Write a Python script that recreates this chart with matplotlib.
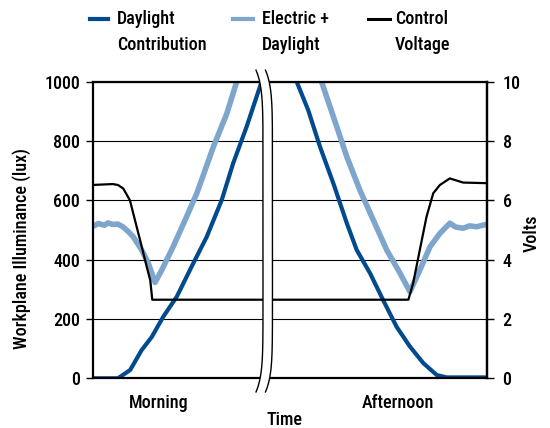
import numpy as np
import matplotlib
matplotlib.use("Agg")
import matplotlib.pyplot as plt
from matplotlib.lines import Line2D
from matplotlib.patches import Polygon
from matplotlib import font_manager as fm

# pick a condensed / narrow family if one is installed
names = {f.name for f in fm.fontManager.ttflist}
cond = [f for f in fm.fontManager.ttflist
        if ('Narrow' in f.name or 'Condensed' in f.name or
            str(f.stretch) in ('condensed', 'semi-condensed', 'extra-condensed', '75', '62.5', '87.5'))]
cond_names = sorted({f.name for f in cond})
prefer = ['Liberation Sans Narrow', 'Roboto Condensed', 'Open Sans Condensed',
          'DejaVu Sans Condensed']
chosen = None
for p in prefer:
    if p in names:
        chosen = p
        break
if chosen is None and cond_names:
    chosen = cond_names[0]
FONT = ([chosen] if chosen else []) + ['DejaVu Sans']
plt.rcParams['font.family'] = FONT
plt.rcParams['font.stretch'] = 'condensed'
plt.rcParams['font.weight'] = 500

# ---------------- data ----------------
day_am_t = [0, 6.4, 9.5, 12.4, 15.0, 17.9, 21.3, 25.5, 28.9, 32.7, 35.6, 39.0, 42.8]
day_am = [0, 0, 28, 95, 140, 208, 275, 388, 477, 601, 725, 848, 1000]

ele_am_t = [0, 1.5, 3.0, 3.9, 5.0, 6.4, 7.75, 9.0, 10.3, 12.4, 14.1, 15.8, 17.5,
            20.4, 23.8, 26.4, 30.6, 34.0, 36.5]
ele_am = [512, 522, 516, 524, 519, 520, 510, 495, 477, 433, 388, 323, 365,
          444, 545, 624, 781, 893, 1000]

volt_am_t = [0, 5.1, 6.4, 7.75, 9.45, 10.7, 12.0, 13.7, 14.6, 15.1, 43.2]
volt_am = [6.52, 6.55, 6.52, 6.4, 6.0, 5.34, 4.67, 3.76, 3.3, 2.65, 2.65]

day_pm_t = [51.7, 54.6, 57.6, 61.0, 64.4, 66.9, 70.3, 73.6, 77.0, 80.4, 83.8,
            87.2, 89.7, 100]
day_pm = [1000, 905, 781, 657, 523, 433, 354, 264, 174, 107, 51, 11, 3, 3]

ele_pm_t = [58.0, 61.0, 64.4, 67.7, 71.1, 74.5, 77.9, 80.4, 82.9, 85.5, 88.0,
            90.5, 92.0, 93.9, 95.5, 97.3, 100]
ele_pm = [1000, 882, 747, 635, 534, 433, 354, 292, 365, 444, 489,
          523, 510, 506, 514, 511, 520]

volt_pm_t = [45.6, 80.0, 81.2, 82.9, 84.6, 86.3, 88.0, 90.5, 93.9, 100]
volt_pm = [2.65, 2.65, 3.2, 4.33, 5.45, 6.24, 6.52, 6.74, 6.6, 6.58]

lux_ticks = [0, 200, 400, 600, 800, 1000]
volt_ticks = [0, 2, 4, 6, 8, 10]
legend_labels = ["Daylight\nContribution", "Electric +\nDaylight", "Control\nVoltage"]

DARK = '#024a8e'
LIGHT = '#7ea5cc'
BLACK = '#000000'
FS = 13

# ---------------- figure ----------------
W, H = 550.0, 428.0
fig = plt.figure(figsize=(5.5, 4.28), dpi=100)
ax = fig.add_axes([0.1685, 0.1161, 0.7175, 0.6929])
ax2 = ax.twinx()

ax.plot(day_am_t, day_am, color=DARK, lw=3.0, solid_capstyle='round', solid_joinstyle='round')
ax.plot(day_pm_t, day_pm, color=DARK, lw=3.0, solid_capstyle='round', solid_joinstyle='round')
ax.plot(ele_am_t, ele_am, color=LIGHT, lw=4.0, solid_capstyle='round', solid_joinstyle='round')
ax.plot(ele_pm_t, ele_pm, color=LIGHT, lw=4.0, solid_capstyle='round', solid_joinstyle='round')
ax2.plot(volt_am_t, volt_am, color=BLACK, lw=1.6, solid_joinstyle='round')
ax2.plot(volt_pm_t, volt_pm, color=BLACK, lw=1.6, solid_joinstyle='round')

ax.set_xlim(0, 100)
ax.set_ylim(0, 1000)
ax.set_xticks([])
ax.set_yticks(lux_ticks)
ax.yaxis.grid(True, color='black', lw=0.8)
ax.set_axisbelow(True)
ax.tick_params(axis='y', direction='out', length=5, width=1, pad=4, labelsize=FS)
for side in ['left', 'right', 'top', 'bottom']:
    ax.spines[side].set_linewidth(1.6)
    ax.spines[side].set_color('black')

ax2.set_ylim(0, 10)
ax2.set_yticks(volt_ticks)
ax2.tick_params(axis='y', direction='out', length=5, width=1, pad=6, labelsize=FS)
for side in ['left', 'top', 'bottom']:
    ax2.spines[side].set_visible(False)
ax2.spines['right'].set_linewidth(1.6)

# axis titles placed in figure pixels
fig.text(22 / W, 1 - 248.5 / H, 'Workplane Illuminance (lux)', rotation=90,
         ha='center', va='center', fontsize=FS)
fig.text(532 / W, 1 - 233.5 / H, 'Volts', rotation=90,
         ha='center', va='center', fontsize=FS)

ax.text(16.8, -0.100, 'Morning', transform=ax.get_xaxis_transform(),
        ha='center', va='baseline', fontsize=FS)
ax.text(77.4, -0.100, 'Afternoon', transform=ax.get_xaxis_transform(),
        ha='center', va='baseline', fontsize=FS)
ax.text(48.7, -0.157, 'Time', transform=ax.get_xaxis_transform(),
        ha='center', va='baseline', fontsize=FS)

# ---------------- axis break ----------------
yb = np.linspace(-46, 1039, 300)
mid = (1039 + -46) / 2.0
half = (1039 + 46) / 2.0
off = 1.77 * np.abs((yb - mid) / half) ** 10
x1 = 43.16 - off
x2 = 45.56 - off
poly = np.column_stack([np.r_[x1, x2[::-1]], np.r_[yb, yb[::-1]]])
ax2.add_patch(Polygon(poly, closed=True, fc='white', ec='none',
                      transform=ax.transData, clip_on=False, zorder=5))
for xx in (x1, x2):
    ax2.add_line(Line2D(xx, yb, color='black', lw=1.0, transform=ax.transData,
                        clip_on=False, zorder=6))
ax2.set_ylim(0, 10)
ax.set_xlim(0, 100)

# ---------------- legend ----------------
handles = [(90, 108, DARK, 3.0), (233, 253, LIGHT, 3.0), (368, 390, BLACK, 2.2)]
text_x = [116.7, 261.7, 395.0]
for (hx0, hx1, col, lw), tx, lab in zip(handles, text_x, legend_labels):
    fig.add_artist(Line2D([hx0 / W, hx1 / W], [1 - 19.3 / H, 1 - 19.3 / H],
                          transform=fig.transFigure, color=col, lw=lw))
    for i, line in enumerate(lab.split('\n')):
        fig.text(tx / W, 1 - (24 + 26 * i) / H, line, ha='left', va='baseline',
                 fontsize=FS)

fig.savefig('out.png', dpi=100)
